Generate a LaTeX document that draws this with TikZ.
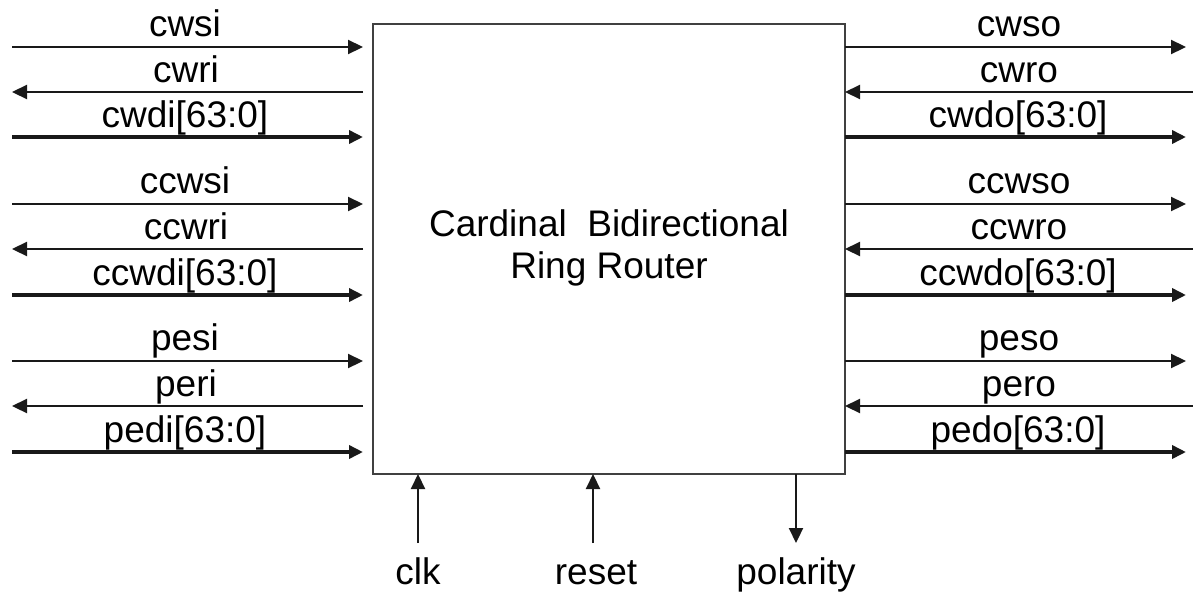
\documentclass[tikz,border=0pt]{standalone}
\usepackage{fontspec}
\setmainfont{Liberation Sans}
\usetikzlibrary{arrows.meta}
\begin{document}
\begin{tikzpicture}[x=1pt,y=-1pt,
  sig/.style={line width=2.2pt, draw=black!90, -{Triangle[length=15pt,width=14pt]}},
  bus/.style={line width=3.6pt, draw=black!90, -{Triangle[length=14pt,width=13pt]}},
  lbl/.style={font=\fontsize{37}{40}\selectfont, anchor=base, inner sep=0pt},
]
\useasboundingbox (0,0) rectangle (1193,592);
\node[draw=black!75, line width=2.2pt, minimum width=472pt, minimum height=450pt,
      inner sep=0pt, outer sep=0pt, anchor=north west] (R) at (373,24) {};
\node[font=\fontsize{37}{42}\selectfont, align=center, inner sep=0pt] (T) at (609,248)
  {Cardinal\ \ Bidirectional\\Ring Router};

% ---- left side ----
\coordinate (cwsiS) at (12,47);
\coordinate (cwriS) at (12,92);
\coordinate (cwdiS) at (12,137);
\coordinate (ccwsiS) at (12,204);
\coordinate (ccwriS) at (12,249);
\coordinate (ccwdiS) at (12,295);
\coordinate (pesiS) at (12,361);
\coordinate (periS) at (12,406);
\coordinate (pediS) at (12,452);

\draw[sig] (cwsiS) -- ([xshift=-10pt]cwsiS -| R.west);
\draw[sig] ([xshift=-10pt]cwriS -| R.west) -- (cwriS);
\draw[bus] (cwdiS) -- ([xshift=-10pt]cwdiS -| R.west);
\draw[sig] (ccwsiS) -- ([xshift=-10pt]ccwsiS -| R.west);
\draw[sig] ([xshift=-10pt]ccwriS -| R.west) -- (ccwriS);
\draw[bus] (ccwdiS) -- ([xshift=-10pt]ccwdiS -| R.west);
\draw[sig] (pesiS) -- ([xshift=-10pt]pesiS -| R.west);
\draw[sig] ([xshift=-10pt]periS -| R.west) -- (periS);
\draw[bus] (pediS) -- ([xshift=-10pt]pediS -| R.west);

\node[lbl] (lcwsi) at (185,36) {cwsi};
\node[lbl] (lcwri) at (186,82) {cwri};
\node[lbl] (lcwdi) at (185,127) {cwdi[63:0]};
\node[lbl] (lccwsi) at (185,193) {ccwsi};
\node[lbl] (lccwri) at (186,239) {ccwri};
\node[lbl] (lccwdi) at (185,285) {ccwdi[63:0]};
\node[lbl] (lpesi) at (185,350) {pesi};
\node[lbl] (lperi) at (186,396) {peri};
\node[lbl] (lpedi) at (185,442) {pedi[63:0]};

% ---- right side ----
\coordinate (cwsoE) at (1186,47);
\coordinate (cwroE) at (1193,92);
\coordinate (cwdoE) at (1186,137);
\coordinate (ccwsoE) at (1186,204);
\coordinate (ccwroE) at (1193,249);
\coordinate (ccwdoE) at (1186,295);
\coordinate (pesoE) at (1186,361);
\coordinate (peroE) at (1193,406);
\coordinate (pedoE) at (1186,452);

\draw[sig] (cwsoE -| R.east) -- (cwsoE);
\draw[sig] (cwroE) -- (cwroE -| R.east);
\draw[bus] (cwdoE -| R.east) -- (cwdoE);
\draw[sig] (ccwsoE -| R.east) -- (ccwsoE);
\draw[sig] (ccwroE) -- (ccwroE -| R.east);
\draw[bus] (ccwdoE -| R.east) -- (ccwdoE);
\draw[sig] (pesoE -| R.east) -- (pesoE);
\draw[sig] (peroE) -- (peroE -| R.east);
\draw[bus] (pedoE -| R.east) -- (pedoE);

\node[lbl] (lcwso) at (1019,36) {cwso};
\node[lbl] (lcwro) at (1019,82) {cwro};
\node[lbl] (lcwdo) at (1018,127) {cwdo[63:0]};
\node[lbl] (lccwso) at (1019,193) {ccwso};
\node[lbl] (lccwro) at (1019,239) {ccwro};
\node[lbl] (lccwdo) at (1018,285) {ccwdo[63:0]};
\node[lbl] (lpeso) at (1019,350) {peso};
\node[lbl] (lpero) at (1019,396) {pero};
\node[lbl] (lpedo) at (1018,442) {pedo[63:0]};

% ---- bottom ----
\coordinate (clkS) at (418,543);
\coordinate (resetS) at (593,543);
\coordinate (polS) at (796,543);
\draw[sig] (clkS) -- (clkS |- R.south);
\draw[sig] (resetS) -- (resetS |- R.south);
\draw[sig] (polS |- R.south) -- (polS);
\node[lbl] (lclk) at (418,584) {clk};
\node[lbl] (lreset) at (596,584) {reset};
\node[lbl] (lpol) at (796,584) {polarity};
\end{tikzpicture}
\end{document}
